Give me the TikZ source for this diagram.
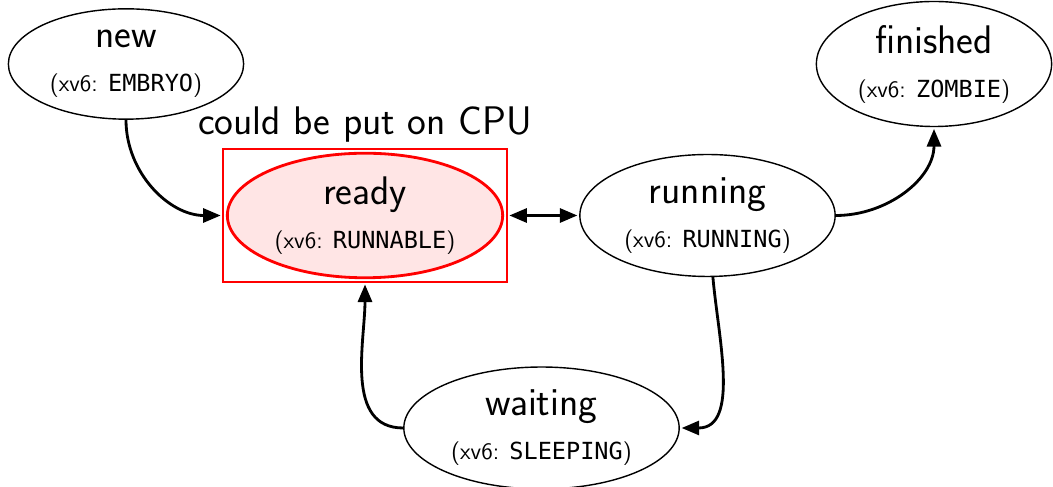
\documentclass[tikz,border=0pt]{standalone}
\usepackage{fontspec}
\setmonofont{DejaVu Sans Mono}
\usepackage{tikz}
\usetikzlibrary{arrows.meta,positioning,fit,shapes.geometric}

\newcommand{\bigsf}{\sffamily\fontsize{22.7}{25}\selectfont}
\newcommand{\xv}[1]{{\fontsize{13.4}{16}\selectfont(xv6: \texttt{#1})}}

\begin{document}
\begin{tikzpicture}[->,>={Triangle[length=10pt,width=8pt]},shorten >=1pt,auto,
                    semithick]
\tikzstyle{proc}=[ellipse,draw=black,thick,text=black,align=center,
                  font=\bigsf,inner xsep=4pt,inner ysep=3pt]
\tikzstyle{conn}=[line width=1.6pt]
\useasboundingbox (0,0) rectangle (21.06,-9.74);
\node[proc] (new) at (2.52,-1.28) {new\\\xv{EMBRYO}};
\node[proc,draw=red,fill=red!10,line width=1.6pt] (ready) at (7.30,-4.31) {ready\\\xv{RUNNABLE}};
\node[draw=red,line width=1pt,inner sep=1.5pt,fit=(ready)] (readybox) {};
\node[font=\bigsf] (cpu) [above=0pt of readybox] {could be put on CPU};
\node[proc] (running) at (14.15,-4.31) {running\\\xv{RUNNING}};
\node[proc] (finished) at (18.68,-1.28) {finished\\\xv{ZOMBIE}};
\node[proc] (waiting) at (10.83,-8.56) {waiting\\\xv{SLEEPING}};
\path[conn] (new) edge [out=-90,in=180] (readybox.west)
      (readybox) edge [<->,shorten <=1pt] (running)
      (running) edge [out=0,in=-90] (finished)
      (running) edge [out=-85,in=0] (waiting)
      (waiting) edge [out=180,in=-90] (readybox);
\end{tikzpicture}
\end{document}
